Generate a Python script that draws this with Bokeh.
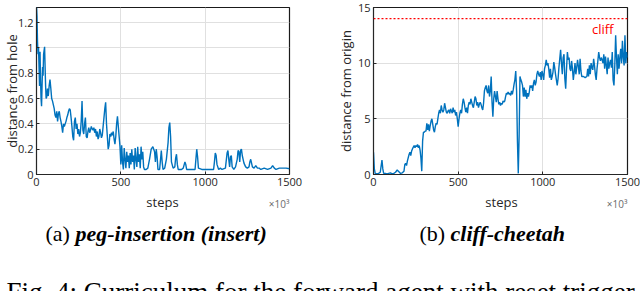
from bokeh.plotting import figure
from bokeh.layouts import row, column
from bokeh.models import Range1d, FixedTicker, PrintfTickFormatter, Span, Label
from bokeh.embed import file_html
from bokeh.resources import INLINE

# ---------------- data ----------------
peg_steps = [0, 3, 6, 9, 12, 15, 18, 21, 24, 27, 30, 33, 36, 39, 42, 45, 48, 51, 54, 57,
             60, 65, 70, 75, 80, 85, 90, 95, 100, 105, 110, 115, 120, 125, 130, 135, 140, 145,
             150, 155, 160, 165, 170, 175, 180, 185, 190, 195, 200, 205, 210, 215, 220, 225,
             230, 235, 240, 245, 250, 255, 260, 265, 270, 275, 280, 285, 290, 295, 300, 305,
             310, 315, 320, 325, 330, 335, 340, 345, 350, 355, 360, 365, 370, 375, 380, 385,
             390, 395, 400, 405, 410, 415, 420, 425, 430, 435, 440, 445, 450, 455, 460, 465,
             470, 475, 480, 485, 490, 495, 500, 505, 510, 515, 520, 525, 530, 535, 540, 545,
             550, 555, 560, 565, 570, 575, 580, 585, 590, 595, 600, 605, 610, 615, 620, 625,
             630, 635, 640, 650, 660, 670, 680, 690, 700, 705, 710, 715, 720, 730, 740, 745,
             750, 760, 770, 780, 785, 790, 795, 800, 810, 820, 825, 830, 835, 840, 860, 870,
             880, 885, 890, 900, 940, 945, 950, 955, 960, 980, 1050, 1055, 1060, 1065, 1070,
             1080, 1090, 1100, 1120, 1130, 1135, 1140, 1145, 1150, 1155, 1160, 1170, 1180,
             1190, 1195, 1200, 1205, 1210, 1215, 1220, 1225, 1230, 1240, 1250, 1260, 1265,
             1270, 1275, 1280, 1290, 1300, 1310, 1320, 1330, 1350, 1370, 1390, 1400, 1410,
             1420, 1440, 1460, 1480, 1500]
peg_dist = [1.33, 1.25, 1.05, 0.95, 1.0, 0.85, 0.7, 0.97, 0.75, 0.6, 0.54, 0.7, 0.85, 0.78,
            0.95, 0.98, 1.01, 0.85, 0.7, 0.6, 0.61, 0.68, 0.62, 0.7, 0.75, 0.68, 0.6, 0.58,
            0.55, 0.52, 0.47, 0.45, 0.5, 0.42, 0.48, 0.5, 0.45, 0.42, 0.38, 0.33, 0.4, 0.38,
            0.4, 0.42, 0.45, 0.47, 0.5, 0.52, 0.51, 0.45, 0.38, 0.3, 0.27, 0.42, 0.45, 0.36,
            0.4, 0.32, 0.36, 0.3, 0.33, 0.42, 0.58, 0.35, 0.32, 0.4, 0.45, 0.3, 0.29, 0.34,
            0.37, 0.33, 0.35, 0.38, 0.36, 0.35, 0.37, 0.33, 0.36, 0.3, 0.34, 0.28, 0.3, 0.36,
            0.33, 0.29, 0.31, 0.38, 0.45, 0.52, 0.57, 0.4, 0.3, 0.2, 0.23, 0.32, 0.3, 0.33,
            0.31, 0.34, 0.28, 0.24, 0.3, 0.4, 0.46, 0.38, 0.3, 0.22, 0.08, 0.23, 0.1, 0.04,
            0.21, 0.12, 0.05, 0.18, 0.1, 0.15, 0.05, 0.17, 0.08, 0.2, 0.1, 0.15, 0.04, 0.21,
            0.12, 0.06, 0.22, 0.1, 0.16, 0.05, 0.22, 0.12, 0.18, 0.06, 0.04, 0.04, 0.05, 0.12,
            0.2, 0.22, 0.18, 0.1, 0.2, 0.14, 0.04, 0.04, 0.19, 0.1, 0.04, 0.05, 0.12, 0.25,
            0.37, 0.41, 0.3, 0.1, 0.05, 0.06, 0.13, 0.16, 0.08, 0.04, 0.04, 0.05, 0.1, 0.08,
            0.04, 0.04, 0.04, 0.12, 0.2, 0.14, 0.05, 0.04, 0.04, 0.1, 0.17, 0.15, 0.08, 0.04,
            0.05, 0.04, 0.05, 0.17, 0.19, 0.12, 0.06, 0.14, 0.15, 0.06, 0.04, 0.06, 0.12, 0.19,
            0.18, 0.1, 0.19, 0.2, 0.15, 0.12, 0.09, 0.06, 0.05, 0.06, 0.1, 0.12, 0.09, 0.06,
            0.05, 0.07, 0.05, 0.05, 0.04, 0.05, 0.04, 0.05, 0.07, 0.05, 0.04, 0.05, 0.05, 0.05,
            0.045]

cheetah_steps = [0, 5, 10, 20, 30, 40, 50, 55, 60, 70, 80, 90, 100, 110, 120, 130, 140, 150,
                 160, 170, 180, 185, 190, 195, 200, 210, 215, 220, 225, 230, 240, 245, 250,
                 255, 260, 265, 270, 275, 280, 285, 290, 295, 300, 305, 310, 315, 320, 325,
                 330, 335, 340, 345, 350, 355, 360, 365, 370, 375, 380, 385, 390, 395, 400,
                 405, 410, 415, 420, 425, 430, 435, 440, 445, 450, 455, 460, 465, 470, 475,
                 480, 485, 490, 495, 500, 505, 510, 515, 520, 525, 530, 535, 540, 545, 550,
                 555, 560, 565, 570, 575, 580, 585, 590, 595, 600, 605, 610, 615, 620, 625,
                 630, 635, 640, 645, 650, 655, 660, 665, 670, 675, 680, 685, 690, 695, 700,
                 705, 710, 715, 720, 725, 730, 735, 740, 745, 750, 755, 760, 765, 770, 775,
                 780, 785, 790, 795, 800, 805, 810, 815, 820, 825, 830, 835, 840, 845, 850,
                 855, 860, 865, 870, 875, 880, 885, 890, 895, 900, 905, 910, 915, 920, 925,
                 930, 935, 940, 945, 950, 955, 960, 965, 970, 975, 980, 985, 990, 995, 1000,
                 1005, 1010, 1015, 1020, 1025, 1030, 1035, 1040, 1045, 1050, 1055, 1060, 1065,
                 1070, 1075, 1080, 1085, 1090, 1095, 1100, 1105, 1110, 1115, 1120, 1125, 1130,
                 1135, 1140, 1145, 1150, 1155, 1160, 1165, 1170, 1175, 1180, 1185, 1190, 1195,
                 1200, 1205, 1210, 1215, 1220, 1225, 1230, 1240, 1250, 1260, 1265, 1270, 1275,
                 1280, 1285, 1290, 1295, 1300, 1305, 1310, 1315, 1320, 1325, 1330, 1335, 1340,
                 1345, 1350, 1355, 1360, 1365, 1370, 1375, 1380, 1385, 1390, 1395, 1400, 1405,
                 1410, 1415, 1420, 1425, 1430, 1435, 1440, 1445, 1450, 1455, 1460, 1465, 1470,
                 1475, 1480, 1485, 1490, 1495, 1500]
cheetah_dist = [2.0, 0.5, 0.1, 0.05, 0.1, 0.2, 1.3, 0.5, 0.1, 0.1, 0.05, 0.1, 0.15, 0.05,
                0.1, 0.2, 0.4, 0.25, 0.1, 0.15, 0.3, 0.9, 1.0, 0.8, 1.2, 1.8, 2.0, 1.7, 2.1,
                2.3, 2.6, 2.4, 2.6, 2.5, 2.7, 2.4, 2.6, 2.2, 1.5, 0.3, 3.0, 3.8, 3.8, 3.9, 3.9,
                4.6, 4.0, 4.5, 3.9, 4.4, 4.8, 5.0, 4.5, 4.0, 3.8, 4.3, 4.6, 4.5, 5.0, 5.5, 5.8,
                5.5, 6.2, 5.8, 5.6, 5.8, 6.4, 6.0, 5.6, 5.5, 5.7, 5.8, 5.5, 5.9, 5.7, 5.5, 6.0,
                5.6, 5.8, 5.3, 5.6, 5.0, 4.3, 5.0, 5.5, 5.8, 5.5, 6.3, 6.8, 6.5, 6.0, 5.6, 6.0,
                5.5, 6.2, 6.5, 6.3, 6.8, 6.5, 6.2, 6.0, 6.5, 7.0, 6.8, 6.2, 6.5, 6.0, 6.3, 6.5,
                6.3, 6.0, 5.8, 6.4, 7.5, 7.8, 8.0, 7.5, 7.3, 8.0, 7.0, 7.5, 8.8, 6.5, 5.2, 6.8,
                7.5, 7.0, 6.5, 7.5, 6.8, 6.3, 6.5, 6.2, 6.4, 6.3, 6.6, 6.5, 6.6, 7.0, 7.3, 7.2,
                7.4, 7.2, 7.3, 7.1, 7.5, 7.2, 7.6, 8.1, 8.5, 9.3, 7.5, 3.0, 0.1, 3.5, 8.8, 8.5,
                8.3, 8.0, 7.0, 7.8, 7.0, 7.6, 6.8, 7.3, 7.0, 7.4, 8.0, 7.8, 8.0, 7.5, 8.2, 8.5,
                8.0, 8.3, 9.0, 9.3, 9.0, 8.8, 9.2, 8.5, 9.3, 9.0, 8.5, 9.5, 9.8, 10.3, 9.8,
                10.0, 9.5, 8.7, 9.5, 8.5, 8.8, 9.2, 10.1, 9.6, 9.0, 8.5, 8.0, 8.6, 9.6, 10.4,
                11.2, 10.0, 9.0, 10.5, 10.8, 8.6, 7.7, 9.5, 11.0, 10.3, 10.5, 9.5, 9.3, 10.2,
                9.5, 8.5, 9.2, 10.0, 9.0, 9.6, 10.3, 9.7, 9.0, 10.4, 9.3, 8.8, 8.8, 8.7, 8.8,
                9.5, 8.8, 9.8, 9.0, 10.0, 9.6, 9.4, 10.4, 9.8, 9.0, 8.5, 9.5, 10.2, 11.0, 10.5,
                10.2, 10.5, 10.3, 10.0, 10.8, 9.5, 10.6, 9.8, 9.0, 10.5, 9.5, 10.0, 10.3, 9.6,
                11.0, 8.5, 8.0, 9.8, 12.5, 10.5, 9.0, 10.8, 9.5, 10.5, 11.3, 10.0, 12.0, 10.5,
                9.8, 12.5, 10.0, 11.0, 10.5]

x_ticks = [0, 500, 1000, 1500]
peg_y_ticks = [0, 0.2, 0.4, 0.6, 0.8, 1.0, 1.2]
cheetah_y_ticks = [0, 5, 10, 15]
cliff_level = 14

LINE_COLOR = "#0072BD"
DARK = "#262626"
GRID = "#e0e0e0"
SANS = "Open Sans"
SERIF = "Liberation Serif"

TOTAL_W, TOTAL_H = 640, 291
CHART_H = 192
FRAME_BOTTOM = 174


def make_chart(x, y, y_end, y_ticks, y_label, border_left, border_right, border_top,
               label_standoff):
    p = figure(width=TOTAL_W // 2, height=CHART_H, output_backend="svg", toolbar_location=None,
               x_range=Range1d(0, 1500), y_range=Range1d(0, y_end),
               min_border_left=border_left, min_border_right=border_right,
               min_border_top=border_top, min_border_bottom=CHART_H - FRAME_BOTTOM)
    p.line(x, y, line_color=LINE_COLOR, line_width=1.4)
    p.background_fill_color = "white"
    p.border_fill_color = "white"
    p.outline_line_color = "#1a1a1a"
    p.outline_line_width = 1.2
    p.xaxis.ticker = FixedTicker(ticks=x_ticks)
    p.yaxis.ticker = FixedTicker(ticks=y_ticks)
    p.yaxis.formatter = PrintfTickFormatter(format="%.3g")
    for ax in (p.xaxis[0], p.yaxis[0]):
        ax.axis_line_color = DARK
        ax.major_tick_in = 3
        ax.major_tick_out = 0
        ax.minor_tick_line_color = None
        ax.major_tick_line_color = DARK
        ax.major_label_text_font = SANS
        ax.major_label_text_font_size = "11px"
        ax.major_label_text_color = DARK
        ax.major_label_standoff = 3
    p.yaxis.axis_label = y_label
    p.yaxis.axis_label_text_font = SANS
    p.yaxis.axis_label_text_font_size = "13px"
    p.yaxis.axis_label_text_font_style = "normal"
    p.yaxis.axis_label_text_color = DARK
    p.yaxis.axis_label_standoff = label_standoff
    p.grid.grid_line_color = GRID
    p.grid.grid_line_width = 1
    return p


# ---------------- (a) peg-insertion ----------------
pa = make_chart(peg_steps, peg_dist, 1.32, peg_y_ticks, "distance from hole", 34, 31, 5, -6)

# ---------------- (b) cliff-cheetah ----------------
pb = make_chart(cheetah_steps, cheetah_dist, 15, cheetah_y_ticks, "distance from origin",
                53, 13, 7, 0)
pb.add_layout(Span(location=cliff_level, dimension="width", line_color="#ff0000",
                   line_dash="2 2", line_width=1.2))
pb.add_layout(Label(x=1417, y=13.1, text="cliff", text_align="right", text_baseline="middle",
                    text_font=SANS, text_font_size="13px", text_color="#ff0000"))

# ---------------- texts below the charts (page-pixel coordinates) ----------------
pc = figure(width=TOTAL_W, height=TOTAL_H - CHART_H, output_backend="svg",
            toolbar_location=None,
            x_range=Range1d(0, TOTAL_W), y_range=Range1d(TOTAL_H, CHART_H),
            x_axis_type=None, y_axis_type=None,
            min_border_left=0, min_border_right=0, min_border_top=0, min_border_bottom=0)
pc.outline_line_color = None
pc.background_fill_color = "white"
pc.border_fill_color = "white"


def text(x, y, s, size, font=SANS, style="normal", color=DARK, align="left",
         baseline="alphabetic"):
    pc.add_layout(Label(x=x, y=y, text=s, text_align=align, text_baseline=baseline,
                        text_font=font, text_font_size=size, text_font_style=style,
                        text_color=color))


text(162, 201, "steps", "13px", align="center")
text(501, 201, "steps", "13px", align="center")
text(289, 203, "×10³", "10px", color="#6b6b6b", align="right")
text(627, 203, "×10³", "10px", color="#6b6b6b", align="right")
text(45, 233, "(a)", "22px", font=SERIF, color="black")
text(75, 233, "peg-insertion (insert)", "22px", font=SERIF, style="bold italic", color="black")
text(419, 233, "(b)", "22px", font=SERIF, color="black")
text(450, 233, "cliff-cheetah", "22px", font=SERIF, style="bold italic", color="black")
text(6, 291, "Fig. 4: Curriculum for the forward agent with reset trigger", "27px",
     font=SERIF, color="black")

layout = column(row(pa, pb), pc)
open("out.html", "w").write(file_html(layout, INLINE))
